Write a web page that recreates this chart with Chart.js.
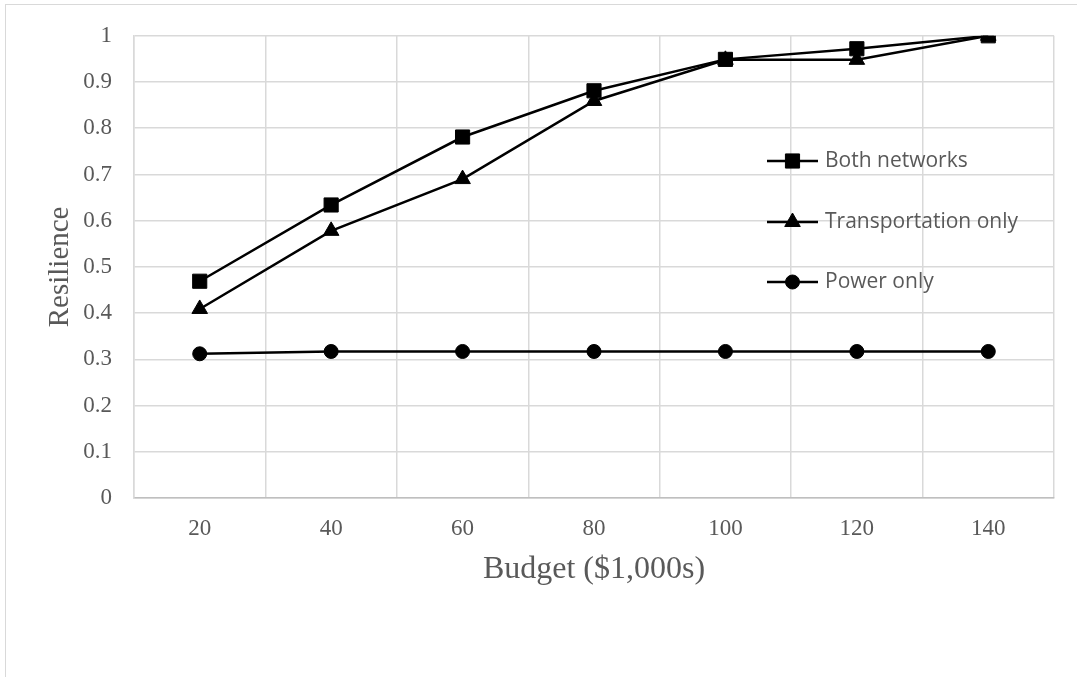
<!DOCTYPE html>
<html>
<head>
<meta charset="utf-8">
<title>Resilience vs budget</title>
<script src="https://cdn.jsdelivr.net/npm/chart.js"></script>
<style>
  body { margin: 0; background: #fff; }
  #frame { position: absolute; left: 5px; top: 4px; width: 1100px; height: 700px;
           border-top: 1px solid #d9d9d9; border-left: 1px solid #d9d9d9; }
  #resilienceChart { position: absolute; left: 0; top: 0; }
</style>
</head>
<body>
<div id="frame"></div>
<canvas id="resilienceChart" width="1077" height="677"></canvas>
<script>
const budgets = ['20', '40', '60', '80', '100', '120', '140'];
const bothNetworks = [0.469, 0.634, 0.781, 0.881, 0.949, 0.972, 1.0];
const transportationOnly = [0.409, 0.578, 0.690, 0.859, 0.948, 0.948, 1.0];
const powerOnly = [0.312, 0.317, 0.317, 0.317, 0.317, 0.317, 0.317];

const grey = '#595959';
const serif = "'Liberation Serif', 'Times New Roman', serif";

function series(label, data, style, radius) {
  return {
    label: label,
    data: data,
    borderColor: '#000',
    backgroundColor: '#000',
    borderWidth: 2.5,
    pointStyle: style,
    pointRadius: radius,
    pointBorderWidth: 1,
    pointBackgroundColor: '#000',
    pointBorderColor: '#000',
    tension: 0
  };
}

// legend sits inside the plot, Excel style: short line with the marker in the middle
const insideLegend = {
  id: 'insideLegend',
  afterDraw(chart) {
    const ctx = chart.ctx;
    const x0 = 767, x1 = 818, tx = 825;
    const rows = [161, 222, 282];
    ctx.save();
    chart.data.datasets.forEach((ds, i) => {
      const y = rows[i];
      const cx = (x0 + x1) / 2;
      ctx.strokeStyle = '#000';
      ctx.lineWidth = 2.5;
      ctx.beginPath();
      ctx.moveTo(x0, y);
      ctx.lineTo(x1, y);
      ctx.stroke();
      ctx.fillStyle = '#000';
      const r = ds.pointRadius;
      ctx.beginPath();
      if (ds.pointStyle === 'rect') {
        const s = Math.SQRT1_2 * r;
        ctx.rect(cx - s, y - s, 2 * s, 2 * s);
      } else if (ds.pointStyle === 'triangle') {
        ctx.moveTo(cx, y - r);
        ctx.lineTo(cx + r * 0.866, y + r / 2);
        ctx.lineTo(cx - r * 0.866, y + r / 2);
        ctx.closePath();
      } else {
        ctx.arc(cx, y, r, 0, Math.PI * 2);
      }
      ctx.fill();
      ctx.lineWidth = 1;
      ctx.stroke();
      ctx.fillStyle = grey;
      ctx.font = "21px 'Open Sans', sans-serif";
      ctx.textAlign = 'left';
      ctx.textBaseline = 'middle';
      ctx.fillText(ds.label, tx, y);
    });
    ctx.restore();
  }
};

new Chart(document.getElementById('resilienceChart'), {
  type: 'line',
  data: {
    labels: budgets,
    datasets: [
      series('Both networks', bothNetworks, 'rect', 10),
      series('Transportation only', transportationOnly, 'triangle', 9),
      series('Power only', powerOnly, 'circle', 7)
    ]
  },
  options: {
    responsive: false,
    animation: false,
    layout: { padding: { top: 34, right: 23, left: 0, bottom: 0 } },
    plugins: {
      legend: { display: false },
      tooltip: { enabled: false }
    },
    scales: {
      x: {
        offset: true,
        grid: { offset: true, color: '#d9d9d9', lineWidth: 1.5, drawTicks: false },
        border: { color: '#bfbfbf', width: 1.5 },
        ticks: { color: grey, font: { family: serif, size: 23 }, padding: 17 },
        title: { display: true, text: 'Budget ($1,000s)', color: grey,
                 font: { family: serif, size: 32 }, padding: { top: 0, bottom: 88 } },
        afterFit(scale) { scale.height = 179; }
      },
      y: {
        min: 0,
        max: 1,
        grid: { color: '#d9d9d9', lineWidth: 1.5, drawTicks: false },
        border: { color: '#d9d9d9', width: 1.5 },
        ticks: { stepSize: 0.1, color: grey, font: { family: serif, size: 23 }, padding: 22,
                 callback: v => +v.toFixed(1) },
        title: { display: true, text: 'Resilience', color: grey,
                 font: { family: serif, size: 29 }, padding: { top: 43, bottom: 0 } },
        afterFit(scale) { scale.width = 134; }
      }
    }
  },
  plugins: [insideLegend]
});
</script>
</body>
</html>
